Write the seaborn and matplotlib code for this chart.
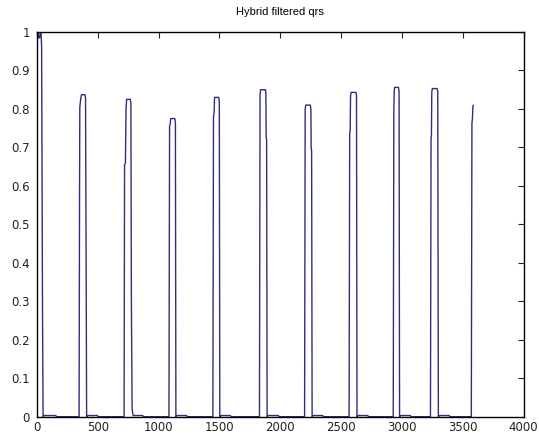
import matplotlib
matplotlib.use("Agg")
import matplotlib.pyplot as plt
import pandas as pd
import seaborn as sns

sns.set_theme(style="white")
plt.rcParams['font.family'] = ['DejaVu Sans']

title = "Hybrid filtered qrs"

# Polyline vertices of the trace (sample index, amplitude), one QRS pulse per line
sample_index = [
    0, 3, 8, 14, 22, 27, 33, 38, 45, 50, 58, 155, 160,
    346, 350, 352, 361, 366, 394, 399, 404, 408, 418, 498, 502,
    716, 720, 727, 732, 737, 767, 772, 776, 782, 790, 870, 875,
    1085, 1090, 1095, 1099, 1133, 1138, 1142, 1150, 1230, 1235,
    1446, 1451, 1456, 1460, 1494, 1499, 1503, 1512, 1590, 1595,
    1829, 1834, 1839, 1878, 1882, 1884, 1888, 1892, 1900, 1985, 1990,
    2200, 2205, 2210, 2247, 2252, 2254, 2258, 2262, 2270, 2350, 2355,
    2566, 2571, 2575, 2578, 2583, 2622, 2627, 2631, 2640, 2720, 2725,
    2929, 2934, 2937, 2940, 2972, 2977, 2981, 2990, 3070, 3075,
    3235, 3240, 3243, 3246, 3251, 3290, 3295, 3300, 3310, 3390, 3395,
    3571, 3576, 3580, 3583, 3586,
]
amplitude = [
    0.62, 1.0, 1.0, 0.985, 0.985, 1.0, 1.0, 0.96, 0.3, 0.0, 0.003, 0.003, 0.0,
    0.0, 0.6, 0.805, 0.83, 0.837, 0.837, 0.83, 0.4, 0.0, 0.003, 0.003, 0.0,
    0.0, 0.655, 0.66, 0.80, 0.825, 0.825, 0.815, 0.3, 0.02, 0.003, 0.003, 0.0,
    0.0, 0.755, 0.76, 0.775, 0.775, 0.765, 0.0, 0.003, 0.003, 0.0,
    0.0, 0.78, 0.79, 0.83, 0.83, 0.82, 0.0, 0.003, 0.003, 0.0,
    0.0, 0.84, 0.85, 0.85, 0.84, 0.727, 0.72, 0.0, 0.003, 0.003, 0.0,
    0.0, 0.80, 0.81, 0.81, 0.80, 0.70, 0.69, 0.0, 0.003, 0.003, 0.0,
    0.0, 0.737, 0.745, 0.835, 0.843, 0.843, 0.835, 0.0, 0.003, 0.003, 0.0,
    0.0, 0.80, 0.845, 0.856, 0.856, 0.845, 0.0, 0.003, 0.003, 0.0,
    0.0, 0.724, 0.73, 0.845, 0.853, 0.853, 0.845, 0.0, 0.003, 0.003, 0.0,
    0.0, 0.763, 0.775, 0.80, 0.81,
]

x_ticks = [0, 500, 1000, 1500, 2000, 2500, 3000, 3500, 4000]
x_tick_labels = ["0", "500", "1000", "1500", "2000", "2500", "3000", "3500", "4000"]
y_ticks = [0, 0.1, 0.2, 0.3, 0.4, 0.5, 0.6, 0.7, 0.8, 0.9, 1.0]
y_tick_labels = ["0", "0.1", "0.2", "0.3", "0.4", "0.5", "0.6", "0.7", "0.8", "0.9", "1"]

df = pd.DataFrame({"sample": sample_index, "amp": amplitude})

fig = plt.figure(figsize=(5.39, 4.40), dpi=100)
ax = fig.add_axes([37 / 539, 1 - 416.7 / 440, 486.5 / 539, 384.7 / 440])
sns.lineplot(data=df, x="sample", y="amp", ax=ax, estimator=None, sort=False,
             color="#2e2e80", linewidth=1.0)
ax.set_xlim(0, 4000)
ax.set_ylim(0, 1)
ax.set_xticks(x_ticks)
ax.set_xticklabels(x_tick_labels)
ax.set_yticks(y_ticks)
ax.set_yticklabels(y_tick_labels)
ax.set_xlabel("")
ax.set_ylabel("")
ax.tick_params(direction="in", length=4.5, width=0.8, top=True, right=True,
               labelsize=8.5, pad=3, colors="#222222")
ax.tick_params(axis="y", pad=5)
for s in ax.spines.values():
    s.set_color("black")
    s.set_linewidth(1.0)
ax.set_title(title, fontsize=8, pad=12, color="black",
             family=['Liberation Sans', 'DejaVu Sans'])

fig.savefig("out.png", dpi=100)
